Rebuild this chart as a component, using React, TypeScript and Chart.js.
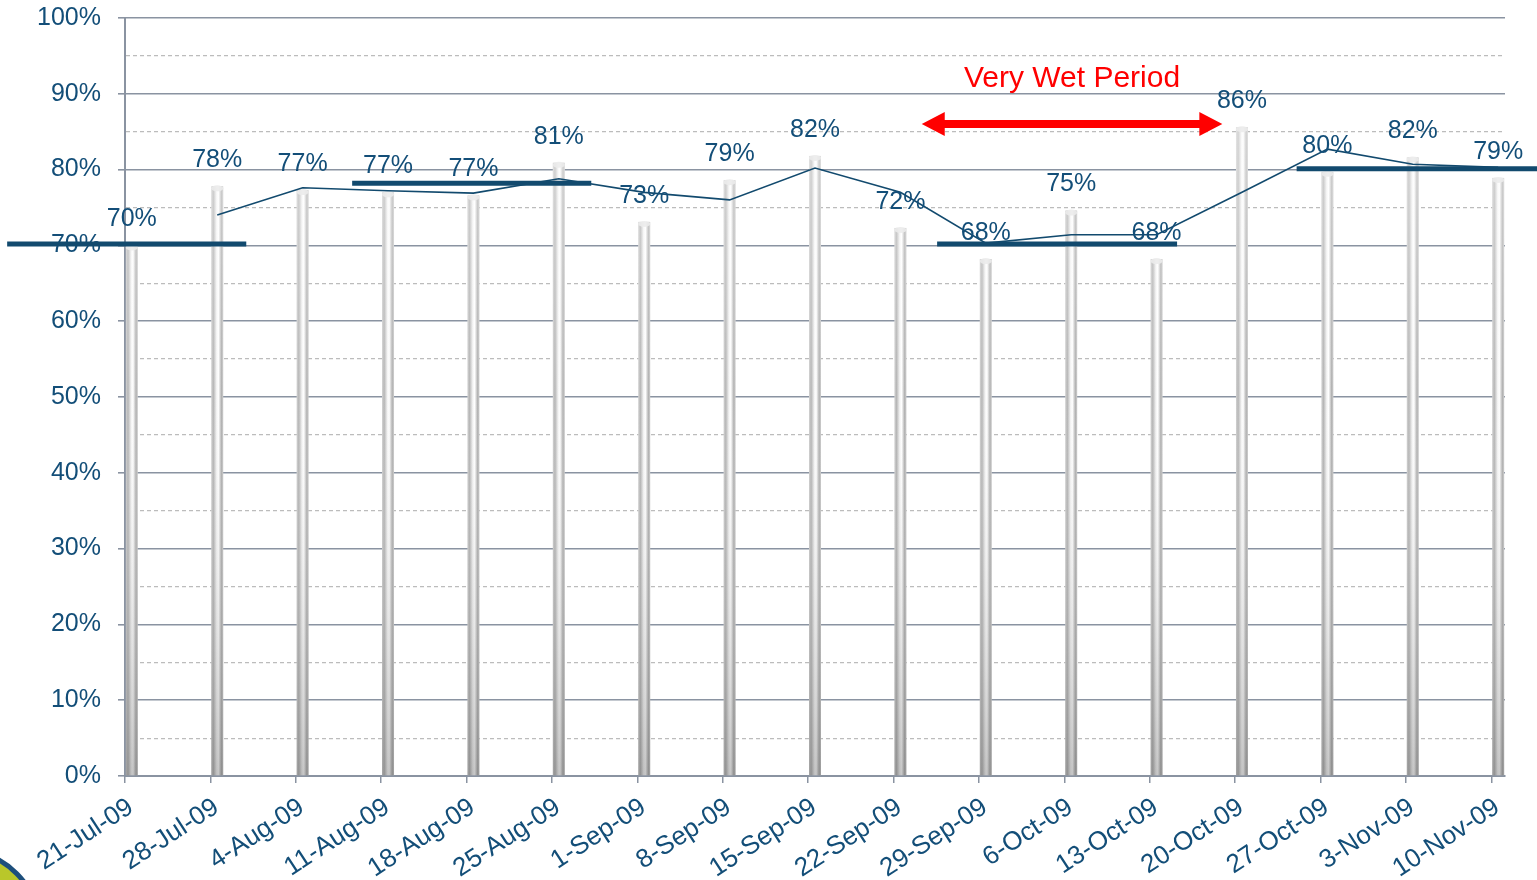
import React, { useEffect, useRef } from "react";
import { Chart, registerables } from "chart.js";

Chart.register(...registerables);

// ---------- data ----------
const CATEGORIES = [
  "21-Jul-09", "28-Jul-09", "4-Aug-09", "11-Aug-09", "18-Aug-09", "25-Aug-09",
  "1-Sep-09", "8-Sep-09", "15-Sep-09", "22-Sep-09", "29-Sep-09", "6-Oct-09",
  "13-Oct-09", "20-Oct-09", "27-Oct-09", "3-Nov-09", "10-Nov-09",
];
const BAR_VALUES = [70.0, 77.8, 77.3, 77.0, 76.6, 80.9, 73.1, 78.6, 81.8, 72.3, 68.2, 74.6, 68.2, 85.6, 79.7, 81.6, 78.9];
const BAR_LABELS = ["70%", "78%", "77%", "77%", "77%", "81%", "73%", "79%", "82%", "72%", "68%", "75%", "68%", "86%", "80%", "82%", "79%"];
const TREND_VALUES = [null, 74.0, 77.6, 77.2, 76.9, 78.8, 77.0, 76.0, 80.2, 77.0, 70.3, 71.4, 71.4, 77.0, 82.7, 80.7, 80.3];

// period averages (thick lines): start / end in category units, value in %
const AVG_START = [-1.46, 2.58, 9.43, 13.64];
const AVG_END = [1.34, 5.38, 12.24, 16.46];
const AVG_VALUE = [70.2, 78.2, 70.2, 80.1];

// "Very Wet Period" annotation
const WET_TEXT = "Very Wet Period";
const WET_START = 9.25;
const WET_END = 12.77;
const WET_ARROW_VALUE = 86.0;
const WET_TEXT_VALUE = 92.0;

const Y_MIN = 0;
const Y_MAX = 100;
const Y_STEP = 5;

// ---------- style ----------
const FONT = "'Liberation Sans', Arial, sans-serif";
const TEXT_BLUE = "#134e78";
const LINE_BLUE = "#124a6e";
const GRID_MAJOR = "#8a93a1";
const GRID_MINOR = "#bcbcbc";
const TICK_SHIFT = 0.08;

const overlayPlugin = {
  id: "overlay",
  afterDatasetDraw(chart: any, args: any) {
    if (args.index !== 0) return;
    const ctx = chart.ctx;
    const area = chart.chartArea;
    const meta = chart.getDatasetMeta(0);
    ctx.save();
    meta.data.forEach((bar: any) => {
      const { x, y, base, width } = bar.getProps(["x", "y", "base", "width"], true);
      const l = x - width / 2;
      const h = base - y;
      const g = ctx.createLinearGradient(l, 0, l + width, 0);
      g.addColorStop(0, "#d0d0d0");
      g.addColorStop(0.18, "#b2b2b2");
      g.addColorStop(0.45, "#f4f4f4");
      g.addColorStop(0.6, "#ffffff");
      g.addColorStop(0.85, "#adadad");
      g.addColorStop(1, "#cbcbcb");
      ctx.fillStyle = g;
      ctx.fillRect(l, y, width, h);
      const v = ctx.createLinearGradient(0, area.top, 0, area.bottom);
      v.addColorStop(0, "rgba(255,255,255,0.6)");
      v.addColorStop(0.5, "rgba(255,255,255,0.05)");
      v.addColorStop(1, "rgba(70,70,70,0.3)");
      ctx.fillStyle = v;
      ctx.fillRect(l, y, width, h);
      ctx.fillStyle = "rgba(235,235,235,0.9)";
      ctx.beginPath();
      ctx.ellipse(x, y + 2, width / 2, 3, 0, 0, Math.PI * 2);
      ctx.fill();
    });
    ctx.restore();
  },
  afterDatasetsDraw(chart: any) {
    const ctx = chart.ctx;
    const xs = chart.scales.x;
    const ys = chart.scales.y;
    const meta = chart.getDatasetMeta(0);
    ctx.save();
    ctx.font = `25px ${FONT}`;
    ctx.fillStyle = TEXT_BLUE;
    ctx.textAlign = "center";
    ctx.textBaseline = "middle";
    meta.data.forEach((bar: any, i: number) => {
      ctx.fillText(BAR_LABELS[i], bar.x, bar.y - 26);
    });
    ctx.strokeStyle = LINE_BLUE;
    ctx.lineWidth = 5;
    AVG_VALUE.forEach((v, i) => {
      const py = ys.getPixelForValue(v);
      ctx.beginPath();
      ctx.moveTo(xs.getPixelForValue(AVG_START[i]), py);
      ctx.lineTo(xs.getPixelForValue(AVG_END[i]), py);
      ctx.stroke();
    });
    const ax1 = xs.getPixelForValue(WET_START);
    const ax2 = xs.getPixelForValue(WET_END);
    const ay = ys.getPixelForValue(WET_ARROW_VALUE);
    const headL = 23;
    const headH = 12;
    const shaft = 4;
    ctx.fillStyle = "#ff0000";
    ctx.beginPath();
    ctx.moveTo(ax1, ay);
    ctx.lineTo(ax1 + headL, ay - headH);
    ctx.lineTo(ax1 + headL, ay - shaft);
    ctx.lineTo(ax2 - headL, ay - shaft);
    ctx.lineTo(ax2 - headL, ay - headH);
    ctx.lineTo(ax2, ay);
    ctx.lineTo(ax2 - headL, ay + headH);
    ctx.lineTo(ax2 - headL, ay + shaft);
    ctx.lineTo(ax1 + headL, ay + shaft);
    ctx.lineTo(ax1 + headL, ay + headH);
    ctx.closePath();
    ctx.fill();
    ctx.font = `30px ${FONT}`;
    ctx.textAlign = "center";
    ctx.textBaseline = "middle";
    ctx.fillText(WET_TEXT, (ax1 + ax2) / 2, ys.getPixelForValue(WET_TEXT_VALUE));
    ctx.restore();
  },
  afterDraw(chart: any) {
    const ctx = chart.ctx;
    ctx.save();
    ctx.beginPath();
    ctx.rect(0, 835, 40, 45);
    ctx.clip();
    ctx.lineWidth = 16;
    ctx.strokeStyle = "#b9c72a";
    ctx.beginPath();
    ctx.arc(-40, 930, 70, -Math.PI / 2, 0.2);
    ctx.stroke();
    ctx.lineWidth = 5;
    ctx.strokeStyle = "#1d4f7c";
    ctx.beginPath();
    ctx.arc(-40, 930, 80, -Math.PI / 2, 0.2);
    ctx.stroke();
    ctx.restore();
  },
};

export default function App() {
  const ref = useRef<HTMLCanvasElement | null>(null);

  useEffect(() => {
    if (!ref.current) return;
    Chart.defaults.font.family = FONT;
    const chart = new Chart(ref.current, {
      type: "bar",
      data: {
        datasets: [
          {
            type: "bar",
            label: "Percentage",
            data: BAR_VALUES.map((v, i) => ({ x: i, y: v })),
            backgroundColor: "rgba(0,0,0,0)",
            borderWidth: 0,
            barThickness: 12,
            order: 2,
          },
          {
            type: "line",
            label: "Trend",
            data: TREND_VALUES.map((v, i) => ({ x: i, y: v })),
            borderColor: LINE_BLUE,
            borderWidth: 1.6,
            pointRadius: 0,
            tension: 0,
            fill: false,
            order: 1,
          },
        ],
      } as any,
      options: {
        animation: false,
        responsive: false,
        maintainAspectRatio: false,
        layout: { padding: { top: 18, right: 32, left: 0, bottom: 0 } },
        plugins: {
          legend: { display: false },
          tooltip: { enabled: false },
        },
        scales: {
          x: {
            type: "linear",
            offset: false,
            min: -TICK_SHIFT,
            max: CATEGORIES.length - 1 + TICK_SHIFT,
            afterBuildTicks: (scale: any) => {
              scale.ticks = CATEGORIES.map((_, i) => ({ value: i - TICK_SHIFT }));
            },
            afterFit: (scale: any) => {
              scale.height = 104;
            },
            grid: {
              offset: false,
              drawOnChartArea: false,
              drawTicks: true,
              tickLength: 7,
              color: GRID_MAJOR,
              lineWidth: 1.5,
            },
            border: { display: true, color: GRID_MAJOR, width: 2 },
            ticks: {
              autoSkip: false,
              minRotation: 33,
              maxRotation: 33,
              padding: 9,
              labelOffset: 6,
              color: TEXT_BLUE,
              font: { size: 26, family: FONT },
              callback: (_v: any, i: number) => CATEGORIES[i],
            },
          },
          y: {
            type: "linear",
            min: Y_MIN,
            max: Y_MAX,
            afterFit: (scale: any) => {
              scale.width = 125;
              scale.paddingTop = 0;
              scale.paddingBottom = 0;
            },
            ticks: {
              stepSize: Y_STEP,
              autoSkip: false,
              padding: 17,
              color: TEXT_BLUE,
              font: { size: 25, family: FONT },
              callback: (v: any) => (Number(v) % 10 === 0 ? `${v}%` : ""),
            },
            grid: {
              drawTicks: true,
              tickLength: 7,
              color: (c: any) => (c.tick && c.tick.value % 10 !== 0 ? GRID_MINOR : GRID_MAJOR),
              tickColor: (c: any) => (c.tick && c.tick.value % 10 !== 0 ? "rgba(0,0,0,0)" : GRID_MAJOR),
              lineWidth: (c: any) => (c.tick && c.tick.value % 10 !== 0 ? 1.2 : 1.6),
            },
            border: {
              display: true,
              color: GRID_MAJOR,
              width: 2,
              dash: (c: any) => (c.tick && c.tick.value % 10 !== 0 ? [4, 3] : []),
            },
          },
        },
      } as any,
      plugins: [overlayPlugin],
    });
    return () => chart.destroy();
  }, []);

  return (
    <div style={{ position: "fixed", left: 0, top: 0, width: 1537, height: 880, background: "#ffffff" }}>
      <canvas ref={ref} width={1537} height={880} style={{ display: "block" }} />
    </div>
  );
}
